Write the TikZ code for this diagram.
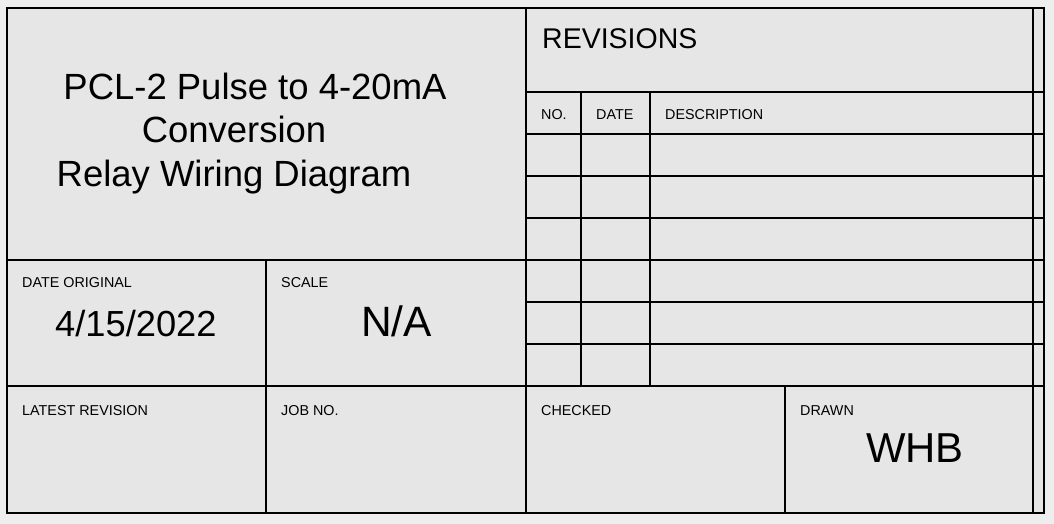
\documentclass[tikz,border=0pt]{standalone}
\usepackage{fontspec}
\setmainfont{Liberation Sans}
\definecolor{pagegray}{RGB}{238,238,238}
\definecolor{sheetgray}{RGB}{230,230,230}
\begin{document}
\begin{tikzpicture}[x=1bp,y=-1bp,
		rule/.style={line width=2.8bp},
		tag/.style={anchor=base west,inner sep=0pt,font=\fontsize{14.4}{16}\selectfont},
		title/.style={anchor=base,inner sep=0pt,font=\fontsize{36.6}{40}\selectfont},
		entry/.style={anchor=base west,inner sep=0pt,font=\fontsize{#1}{#1}\selectfont}]
			\fill[pagegray] (0,0) rectangle (1054,524);
			\useasboundingbox (0,0) rectangle (1054,524);
			\fill[sheetgray] (7,8) rectangle (1044,513);
			% frame and rules
			\draw[rule] (7,8) rectangle (1044,513);
			\draw[rule] (1033,8) -- (1033,513);
			\draw[rule] (526,8) -- (526,513);
			\foreach \y in {92,134,176,218,302,344}
				\draw[rule] (526,\y) -- (1044,\y);
			\draw[rule] (7,260) -- (1044,260);
			\draw[rule] (7,386) -- (1044,386);
			\draw[rule] (581,92) -- (581,386);
			\draw[rule] (650,92) -- (650,386);
			\draw[rule] (266,260) -- (266,513);
			\draw[rule] (785,386) -- (785,513);
			% title block
			\node[title] (line1) at (255,100) {PCL-2 Pulse to 4-20mA};
			\node[title] (line2) at (234,143) {Conversion};
			\node[title] (line3) at (234,187) {Relay Wiring Diagram};
			\node[entry=28.6] (revs) at (542,49) {REVISIONS};
			\node[tag] (no) at (541,120) {NO.};
			\node[tag] (date) at (596,120) {DATE};
			\node[tag] (desc) at (665,120) {DESCRIPTION};
			\node[tag] (orig) at (22,288) {DATE ORIGINAL};
			\node[tag] (scale) at (281,288) {SCALE};
			\node[tag] (latest) at (22,415) {LATEST REVISION};
			\node[tag] (job) at (281,415) {JOB NO.};
			\node[tag] (checked) at (541,415) {CHECKED};
			\node[tag] (drawn) at (800,415) {DRAWN};
			\node[entry=36.4] (origval) at (55,337) {4/15/2022};
			\node[entry=42.6] (scaleval) at (361,337) {N/A};
			\node[entry=42] (drawnval) at (866,462) {WHB};
		\end{tikzpicture}
\end{document}
